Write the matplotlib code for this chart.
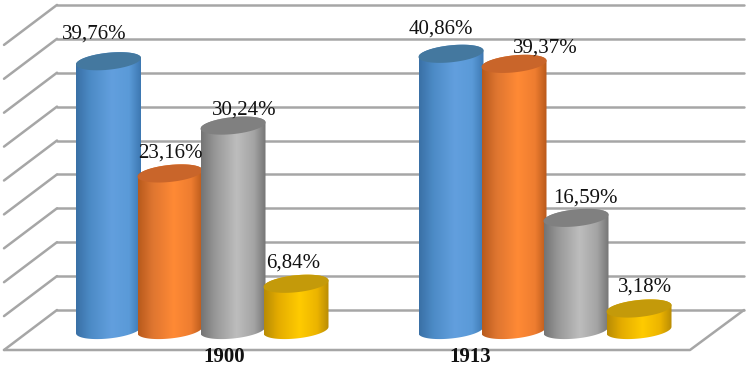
import numpy as np
import matplotlib
matplotlib.use('Agg')
import matplotlib.pyplot as plt
from matplotlib.patches import Polygon

years = ['1900', '1913']
series_1900 = [39.76, 23.16, 30.24, 6.84]
series_1913 = [40.86, 39.37, 16.59, 3.18]
grid_values = [0, 5, 10, 15, 20, 25, 30, 35, 40, 45]

# layout, everything in image pixels
centers = [[108.5, 170, 233, 296], [451, 514, 576, 639]]
label_dx = [[-14.5, 0.5, 11, -2.5], [-10, 31.5, 9, 6]]
label_dy = [[-23, -16, -11, -16], [-20, -11, -15, -17]]
year_x = [224, 470]
px_per_pct = 6.76
floor_back = 310
floor_front = 350
base_y = 330

# edge, mid, bright, mid, edge + top face
colors = [
    (['#3a70a6', '#4c8bc6', '#629fde', '#5a9ad8', '#3d78b2'], '#44789f'),
    (['#b85a1c', '#de7530', '#ff8a35', '#ee7d30', '#b9591b'], '#c9652a'),
    (['#747474', '#989898', '#bdbdbd', '#a4a4a4', '#767676'], '#808080'),
    (['#b98c05', '#e4ac00', '#ffcb00', '#ecb400', '#b98c05'], '#c49a0a'),
]

plt.rcParams['font.family'] = ['Liberation Serif', 'DejaVu Serif']
fig = plt.figure(figsize=(7.5, 3.68), dpi=100)
ax = fig.add_axes([0, 0, 1, 1])


def to_y(v):
    return floor_back - v * 6.78


def ellipse(cx, cy, t):
    a, b, shear = 32.5, 8.5, 3.2
    return np.c_[cx + a * np.cos(t), cy + b * np.sin(t) - shear * np.cos(t)]


def cylinder(cx, value, stops, top):
    y_top = base_y - value * px_per_pct
    lower = ellipse(cx, base_y, np.linspace(0, np.pi, 60))
    upper = ellipse(cx, y_top, np.linspace(np.pi, 2 * np.pi, 60))
    body = Polygon(np.vstack([lower, upper]), closed=True, fc='none', ec='none')
    ax.add_patch(body)
    rgb = np.array([matplotlib.colors.to_rgb(c) for c in stops])
    xs = np.linspace(0, 1, 120)
    at = [0, 0.22, 0.55, 0.82, 1]
    grad = np.stack([np.interp(xs, at, rgb[:, i]) for i in range(3)], axis=-1)[None, :, :]
    im = ax.imshow(grad, extent=[cx - 32.5, cx + 32.5, base_y + 12, y_top - 12],
                   aspect='auto', interpolation='bilinear', zorder=3)
    im.set_clip_path(body)
    body.set_zorder(3)
    ax.add_patch(Polygon(ellipse(cx, y_top, np.linspace(0, 2 * np.pi, 90)), closed=True,
                         fc=top, ec='none', zorder=3))


# back wall and left wall lines
line_kw = dict(color='#a6a6a6', lw=1.8, solid_capstyle='round', zorder=1)
for v in grid_values:
    y = to_y(v)
    ax.plot([57, 744], [y, y], **line_kw)
    ax.plot([4, 57], [y + floor_front - floor_back, y], **line_kw)
ax.plot([4, 690, 744], [floor_front, floor_front, floor_back], **line_kw)

for g, vals in enumerate([series_1900, series_1913]):
    for i, v in enumerate(vals):
        cylinder(centers[g][i], v, colors[i][0], colors[i][1])
        ax.text(centers[g][i] + label_dx[g][i],
                base_y - v * px_per_pct + label_dy[g][i],
                f'{v:.2f}%'.replace('.', ','), ha='center', va='baseline',
                fontsize=15, color='#111111', zorder=5)
    ax.text(year_x[g], 367, years[g], ha='center', va='bottom',
            fontsize=15, fontweight='bold', color='#111111', zorder=5)

ax.set_xlim(0, 750)
ax.set_ylim(368, 0)
ax.axis('off')
fig.savefig('out.png', dpi=100, facecolor='white')
